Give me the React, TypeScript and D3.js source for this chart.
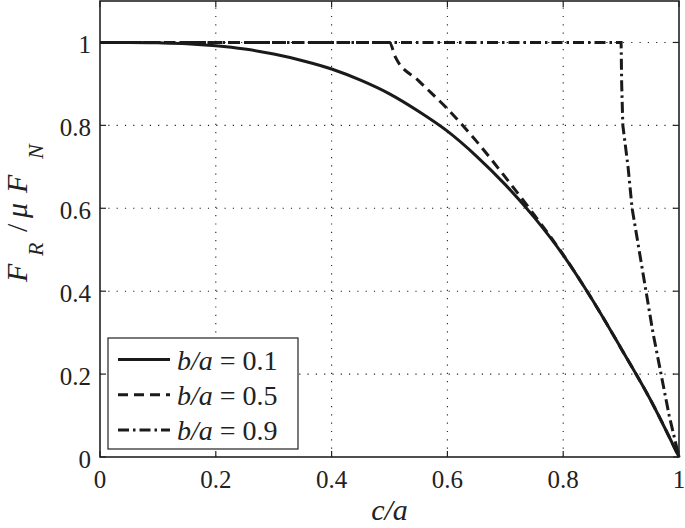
import * as d3 from "d3";
import React from "react";

// c/a values and F_R / (mu F_N)
const cSolid = [0, 0.05, 0.1, 0.15, 0.2, 0.25, 0.3, 0.35, 0.4, 0.45, 0.5, 0.55, 0.6, 0.65, 0.7, 0.75, 0.8, 0.85, 0.9, 0.95, 1];
const fSolid = [1, 1, 0.999, 0.997, 0.992, 0.984, 0.972, 0.956, 0.936, 0.909, 0.876, 0.834, 0.786, 0.726, 0.657, 0.578, 0.487, 0.38, 0.262, 0.14, 0];

const cDashed = [0, 0.5, 0.51, 0.55, 0.6, 0.65, 0.7, 0.75, 0.8, 0.85, 0.9, 0.95, 1];
const fDashed = [1, 1, 0.965, 0.908, 0.84, 0.762, 0.675, 0.584, 0.488, 0.38, 0.262, 0.14, 0];

const cDashDot = [0, 0.9, 0.901, 0.903, 0.912, 0.919, 0.931, 0.943, 0.955, 0.969, 0.983, 1];
const fDashDot = [1, 1, 0.9, 0.8, 0.7, 0.6, 0.5, 0.4, 0.3, 0.2, 0.1, 0];

const xTicks = [0, 0.2, 0.4, 0.6, 0.8, 1];
const yTicks = [0, 0.2, 0.4, 0.6, 0.8, 1];
const legendLabels = ["0.1", "0.5", "0.9"];

const ink = "#222";

const left = 100, right = 679, top = 1, bottom = 457;
const x = d3.scaleLinear().domain([0, 1]).range([left, right]);
const y = d3.scaleLinear().domain([0, 1.1]).range([bottom, top]);

const series = [
  { c: cSolid, f: fSolid, dash: undefined, curve: d3.curveMonotoneX },
  { c: cDashed, f: fDashed, dash: "10,6", curve: d3.curveMonotoneX },
  { c: cDashDot, f: fDashDot, dash: "11,4,2.5,4", curve: d3.curveLinear },
];

// plain text helper so every label carries its own font
const T = (props: any) => <text fontFamily="Liberation Serif" fill={ink} {...props} />;

export default function App() {
  const fmt = d3.format("");
  return (
    <svg width={685} height={528} style={{ position: "absolute", left: 0, top: 0 }}>
      <rect width={685} height={528} fill="#fff" />

      {/* dotted grid */}
      <g stroke={ink} strokeWidth={1.1} strokeDasharray="1.2,7.1">
        {xTicks.slice(1, -1).map(t => (
          <line key={"gx" + t} x1={x(t)} x2={x(t)} y1={bottom} y2={top} />
        ))}
        {yTicks.slice(1).map(t => (
          <line key={"gy" + t} x1={left} x2={right} y1={y(t)} y2={y(t)} />
        ))}
      </g>

      {/* inward ticks on all four sides */}
      <g stroke={ink} strokeWidth={1.2}>
        {xTicks.map(t => (
          <g key={"tx" + t}>
            <line x1={x(t)} x2={x(t)} y1={bottom} y2={bottom - 6} />
            <line x1={x(t)} x2={x(t)} y1={top} y2={top + 6} />
          </g>
        ))}
        {yTicks.map(t => (
          <g key={"ty" + t}>
            <line x1={left} x2={left + 6} y1={y(t)} y2={y(t)} />
            <line x1={right} x2={right - 6} y1={y(t)} y2={y(t)} />
          </g>
        ))}
      </g>

      {xTicks.map(t => (
        <T key={"lx" + t} x={x(t)} y={bottom + 31} textAnchor="middle" fontSize={25}>{fmt(t)}</T>
      ))}
      {yTicks.map(t => (
        <T key={"ly" + t} x={91} y={y(t) + 10.5} textAnchor="end" fontSize={25}>{fmt(t)}</T>
      ))}

      <rect x={left} y={top} width={right - left} height={bottom - top} fill="none" stroke={ink} strokeWidth={1.6} />

      {/* curves */}
      {series.map((s, i) => {
        const pts = s.c.map((c, j) => [c, s.f[j]] as [number, number]);
        const line = d3.line<[number, number]>().x(d => x(d[0])).y(d => y(d[1])).curve(s.curve);
        return (
          <path key={"s" + i} d={line(pts) || ""} fill="none" stroke="#1a1a1a" strokeWidth={3} strokeDasharray={s.dash} />
        );
      })}

      {/* legend */}
      <rect x={108} y={338} width={190} height={111} fill="#fff" stroke={ink} strokeWidth={1.2} />
      {legendLabels.map((lab, i) => {
        const ly = 359.5 + i * 35.3;
        return (
          <g key={"lg" + i}>
            <line x1={118} x2={170} y1={ly} y2={ly} stroke="#1a1a1a" strokeWidth={3} strokeDasharray={series[i].dash} />
            <T x={177} y={ly + 10} fontSize={28}>
              <tspan fontStyle="italic">b/a</tspan>
              <tspan>{" = " + lab}</tspan>
            </T>
          </g>
        );
      })}

      {/* x label */}
      <T x={(left + right) / 2} y={520} textAnchor="middle" fontSize={30} fontStyle="italic">c/a</T>

      {/* y label */}
      <T transform="translate(27,282) rotate(-90)" fontSize={30}>
        <tspan x={0} y={0} fontStyle="italic">F</tspan>
        <tspan x={26} y={16} fontStyle="italic" fontSize={22}>R</tspan>
        <tspan x={50} y={0}>/</tspan>
        <tspan x={64} y={0} fontStyle="italic">μ</tspan>
        <tspan x={89} y={0} fontStyle="italic">F</tspan>
        <tspan x={123} y={16} fontStyle="italic" fontSize={22}>N</tspan>
      </T>
    </svg>
  );
}
